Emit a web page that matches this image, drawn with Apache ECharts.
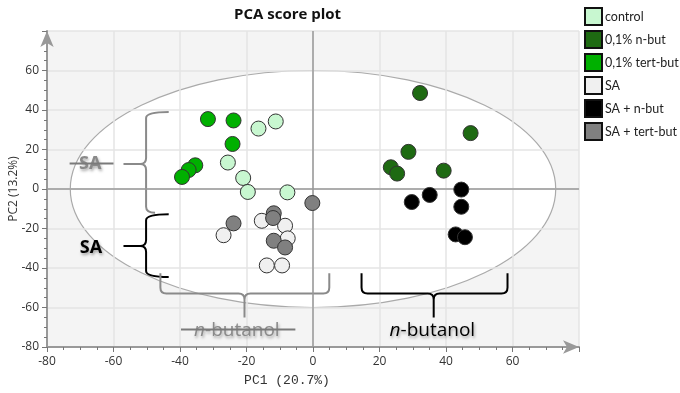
<!DOCTYPE html>
<html>
<head>
<meta charset="utf-8">
<script src="https://cdn.jsdelivr.net/npm/echarts@6/dist/echarts.min.js"></script>
<style>
  html, body { margin: 0; padding: 0; background: #fff; }
  #chart { width: 680px; height: 393px; }
</style>
</head>
<body>
<div id="chart"></div>
<script>
// PC1 / PC2 scores
const control = [[-16.4, 30.6], [-11.2, 34.2], [-25.6, 13.4], [-21.0, 5.6], [-19.6, -1.5], [-7.7, -1.7]]
const nBut = [[32.2, 48.6], [47.4, 28.3], [28.7, 18.8], [23.4, 11.0], [25.3, 7.8], [39.3, 9.3]]
const tertBut = [[-31.6, 35.4], [-23.9, 34.7], [-24.2, 22.8], [-35.4, 12.0], [-37.4, 9.6], [-39.4, 6.1]]
const sa = [[-26.9, -23.4], [-15.4, -16.1], [-8.4, -18.6], [-7.6, -25.0], [-13.9, -38.7], [-9.3, -38.7]]
const saNBut = [[29.7, -6.6], [35.1, -3.0], [44.6, -0.3], [44.6, -9.0], [42.9, -23.0], [45.7, -24.4]]
const saTertBut = [[-0.2, -7.1], [-23.9, -17.4], [-11.8, -12.3], [-12.0, -14.7], [-11.8, -26.2], [-8.4, -29.6]]

const groupNames = ['control', '0,1% n-but', '0,1% tert-but', 'SA', 'SA + n-but', 'SA + tert-but']
const groupColors = ['#c8f7d0', '#1e6a12', '#00b000', '#f0f0f0', '#000000', '#808080']
const groupData = [control, nBut, tertBut, sa, saNBut, saTertBut]

// Hotelling ellipse: centre and half axes (PC1, PC2)
const ellipse = [[0, 0, 73, 60]]

// brackets and labels, in data units
const annots = [
  { kind: 'vbrace', color: '#8a8a8a', spine: -50.2, from: 39, to: -12, endA: -43.4, endB: -47.5, tip: 12.7, tipEnd: -57 },
  { kind: 'vbrace', color: '#000', spine: -50.2, from: -12.8, to: -44.5, endA: -43.4, endB: -43.4, tip: -28.9, tipEnd: -57 },
  { kind: 'hbrace', color: '#8a8a8a', spine: -52.9, from: -45.9, to: 4.9, endA: -42.6, tip: -20.6, tipEnd: -65 },
  { kind: 'hbrace', color: '#000', spine: -52.9, from: 14.6, to: 58.5, endA: -42.6, tip: 36.3, tipEnd: -65 },
  { kind: 'text', color: '#8a8a8a', x: -67, y: 12.5, sa: true, strike: [-73.2, -60] },
  { kind: 'text', color: '#000', x: -66.8, y: -29.6, sa: true },
  { kind: 'text', color: '#8a8a8a', x: -22.9, y: -71.6, strike: [-39.7, -5.3] },
  { kind: 'text', color: '#000', x: 35.9, y: -71.6 }
]

const chart = echarts.init(document.getElementById('chart'))

function renderAnnot(params, api) {
  const a = annots[params.dataIndex]
  const r = 6
  if (a.kind === 'vbrace') {
    const s = api.coord([a.spine, 0])[0]
    const t = api.coord([0, a.from])[1]
    const b = api.coord([0, a.to])[1]
    const e1 = api.coord([a.endA, 0])[0]
    const e2 = api.coord([a.endB, 0])[0]
    const m = api.coord([0, a.tip])[1]
    const tx = api.coord([a.tipEnd, 0])[0]
    const d = `M ${e1} ${t} Q ${s} ${t} ${s} ${t + r} L ${s} ${m - r} Q ${s} ${m} ${s - r} ${m} L ${tx} ${m} ` +
      `M ${s - r} ${m} Q ${s} ${m} ${s} ${m + r} L ${s} ${b - r} Q ${s} ${b} ${e2} ${b}`
    return { type: 'path', shape: { pathData: d }, style: { fill: null, stroke: a.color, lineWidth: 2 } }
  }
  if (a.kind === 'hbrace') {
    const s = api.coord([0, a.spine])[1]
    const l = api.coord([a.from, 0])[0]
    const rt = api.coord([a.to, 0])[0]
    const ey = api.coord([0, a.endA])[1]
    const m = api.coord([a.tip, 0])[0]
    const ty = api.coord([0, a.tipEnd])[1]
    const d = `M ${l} ${ey} L ${l} ${s - r} Q ${l} ${s} ${l + r} ${s} L ${m - r} ${s} Q ${m} ${s} ${m} ${s + r} L ${m} ${ty} ` +
      `M ${m} ${s + r} Q ${m} ${s} ${m + r} ${s} L ${rt - r} ${s} Q ${rt} ${s} ${rt} ${s - r} L ${rt} ${ey}`
    return { type: 'path', shape: { pathData: d }, style: { fill: null, stroke: a.color, lineWidth: 2 } }
  }
  const p = api.coord([a.x, a.y])
  const children = [{
    type: 'text',
    x: p[0],
    y: p[1],
    style: {
      text: a.sa ? 'SA' : '{i|n}-butanol',
      fill: a.color,
      font: a.sa ? 'bold 18px "Open Sans", sans-serif' : '19px "Open Sans", sans-serif',
      align: 'center',
      verticalAlign: 'middle',
      textShadowColor: 'rgba(0,0,0,0.35)',
      textShadowBlur: 3,
      textShadowOffsetX: 1,
      textShadowOffsetY: 2,
      rich: {
        i: { fontStyle: 'italic', fontSize: 19, fontFamily: 'Open Sans', fill: a.color }
      }
    }
  }]
  if (a.strike) {
    const p1 = api.coord([a.strike[0], a.y + 0.4])
    const p2 = api.coord([a.strike[1], a.y + 0.4])
    children.push({
      type: 'line',
      shape: { x1: p1[0], y1: p1[1], x2: p2[0], y2: p2[1] },
      style: { stroke: '#7a7a7a', lineWidth: 2 }
    })
  }
  return { type: 'group', children: children }
}

const scatterSeries = groupNames.map((name, i) => ({
  name: name,
  type: 'scatter',
  z: 5,
  symbolSize: 15,
  itemStyle: { color: groupColors[i], borderColor: '#333', borderWidth: 1, opacity: 1 },
  data: groupData[i]
}))

// zero lines through the origin
scatterSeries[0].markLine = {
  silent: true,
  symbol: 'none',
  label: { show: false },
  lineStyle: { color: '#999', width: 1.5, type: 'solid' },
  data: [{ xAxis: 0 }, { yAxis: 0 }]
}

chart.setOption({
  animation: false,
  title: {
    text: 'PCA score plot',
    left: 229,
    top: 2,
    textStyle: { fontFamily: 'Open Sans', fontSize: 15, fontWeight: 'bold', color: '#111' }
  },
  legend: {
    orient: 'vertical',
    left: 579,
    top: 2,
    itemWidth: 17,
    itemHeight: 17,
    itemGap: 4,
    icon: 'rect',
    itemStyle: { borderColor: '#111', borderWidth: 2 },
    textStyle: { fontFamily: 'Lato', fontSize: 12.5, color: '#222', padding: [0, 0, 0, -2] },
    data: groupNames
  },
  grid: {
    left: 47,
    right: 101,
    top: 31,
    bottom: 46,
    outerBoundsMode: 'none',
    show: true,
    backgroundColor: '#f4f4f4',
    borderWidth: 0
  },
  xAxis: {
    type: 'value',
    min: -80,
    max: 80,
    interval: 20,
    z: 3,
    name: 'PC1 (20.7%)',
    nameLocation: 'middle',
    nameGap: 27,
    nameMoveOverlap: false,
    nameTextStyle: { fontFamily: 'Liberation Mono', fontSize: 13, color: '#333', padding: [0, 52, 0, 0] },
    axisLine: { onZero: false, lineStyle: { color: '#999', width: 2 }, symbol: ['none', 'arrow'], symbolSize: [10, 16] },
    axisTick: { show: true, length: 5, lineStyle: { color: '#777' } },
    minorTick: { show: true, splitNumber: 4, length: 3, lineStyle: { color: '#777' } },
    axisLabel: { showMaxLabel: false, margin: 9, fontFamily: 'Open Sans', fontSize: 12, color: '#333' },
    splitLine: { show: true, lineStyle: { color: '#e4e4e4', width: 1.5 } }
  },
  yAxis: {
    type: 'value',
    min: -80,
    max: 80,
    interval: 20,
    z: 3,
    name: 'PC2 (13.2%)',
    nameLocation: 'middle',
    nameGap: 27,
    nameMoveOverlap: false,
    nameTextStyle: { fontFamily: 'Open Sans', fontSize: 12, color: '#333' },
    axisLine: { onZero: false, lineStyle: { color: '#999', width: 2 }, symbol: ['none', 'arrow'], symbolSize: [10, 16] },
    axisTick: { show: true, length: 5, lineStyle: { color: '#777' } },
    minorTick: { show: true, splitNumber: 4, length: 3, lineStyle: { color: '#777' } },
    axisLabel: { showMaxLabel: false, margin: 8, fontFamily: 'Open Sans', fontSize: 12, color: '#333' },
    splitLine: { show: true, lineStyle: { color: '#e4e4e4', width: 1.5 } }
  },
  series: [
    {
      type: 'custom',
      z: 1,
      silent: true,
      data: ellipse,
      renderItem(params, api) {
        const c = api.coord([api.value(0), api.value(1)])
        const sz = api.size([api.value(2), api.value(3)])
        return {
          type: 'ellipse',
          shape: { cx: c[0], cy: c[1], rx: sz[0], ry: sz[1] },
          style: { fill: '#fff', stroke: '#aaa', lineWidth: 1.2 }
        }
      }
    },
    {
      type: 'custom',
      z: 4,
      silent: true,
      data: annots.map(() => [0, 0]),
      renderItem: renderAnnot
    }
  ].concat(scatterSeries)
})
</script>
</body>
</html>
